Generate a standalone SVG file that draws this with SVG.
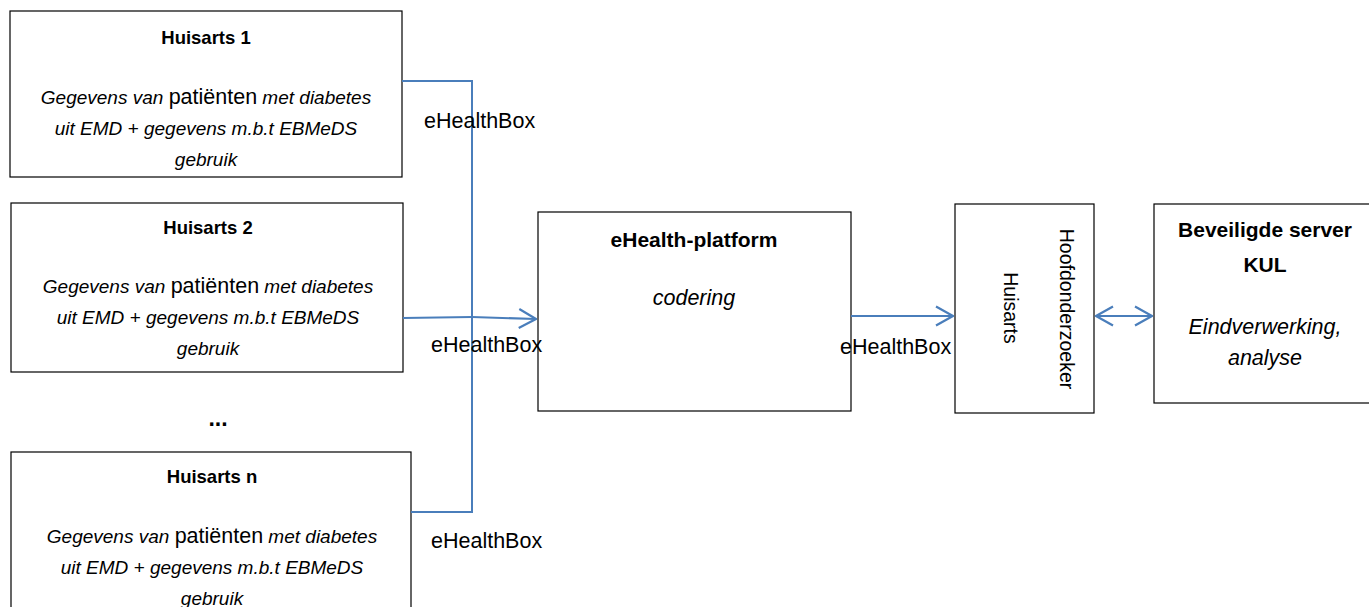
<svg xmlns="http://www.w3.org/2000/svg" width="1369" height="607" viewBox="0 0 1369 607">
<style>
text{font-family:"Liberation Sans","Noto Sans",sans-serif;fill:#000}
.box{fill:#fff;stroke:#000;stroke-width:1.2}
.t{font-weight:bold;font-size:18.5px;text-anchor:middle}
.tl{font-weight:bold;font-size:21px;text-anchor:middle}
.d{font-style:italic;font-size:19px;text-anchor:middle}
.dl{font-style:italic;font-size:21.5px;text-anchor:middle}
.pt{font-style:normal;font-size:21.5px}
.lbl{font-size:21.5px}
.v{font-size:19.5px;text-anchor:middle}
.c{fill:none;stroke:#4A7EBB;stroke-width:2}
</style>
<defs>
<marker id="ah" viewBox="0 0 19 22" refX="18" refY="11" markerWidth="19" markerHeight="22" markerUnits="userSpaceOnUse" orient="auto-start-reverse">
<path d="M1,1.5 L18,11 L1,20.5" fill="none" stroke="#4A7EBB" stroke-width="2.2"/>
</marker>
</defs>
<g id="huisarts1">
<rect class="box" x="10" y="11" width="392" height="166"/>
<text class="t" x="206" y="44">Huisarts 1</text>
<text class="d" x="206" y="104">Gegevens van <tspan class="pt">patiënten</tspan> met diabetes</text>
<text class="d" x="206" y="135">uit EMD + gegevens m.b.t EBMeDS</text>
<text class="d" x="206" y="166">gebruik</text>
</g>
<g id="huisarts2">
<rect class="box" x="11" y="203" width="392" height="169"/>
<text class="t" x="208" y="234">Huisarts 2</text>
<text class="d" x="208" y="293">Gegevens van <tspan class="pt">patiënten</tspan> met diabetes</text>
<text class="d" x="208" y="324">uit EMD + gegevens m.b.t EBMeDS</text>
<text class="d" x="208" y="355">gebruik</text>
</g>
<g id="dots">
<text class="t" x="218" y="426" style="font-size:23px">...</text>
</g>
<g id="huisartsn">
<rect class="box" x="11" y="452" width="400" height="160"/>
<text class="t" x="212" y="483">Huisarts n</text>
<text class="d" x="212" y="543">Gegevens van <tspan class="pt">patiënten</tspan> met diabetes</text>
<text class="d" x="212" y="574">uit EMD + gegevens m.b.t EBMeDS</text>
<text class="d" x="212" y="605">gebruik</text>
</g>
<g id="ehealth">
<rect class="box" x="538" y="212" width="313" height="199"/>
<text class="tl" x="694" y="247">eHealth-platform</text>
<text class="dl" x="694" y="305">codering</text>
</g>
<g id="hoofdonderzoeker">
<rect class="box" x="955" y="204" width="139" height="209"/>
<text class="v" transform="translate(1060,309) rotate(90)">Hoofdonderzoeker</text>
<text class="v" transform="translate(1004,308) rotate(90)">Huisarts</text>
</g>
<g id="server">
<rect class="box" x="1154" y="204" width="222" height="199"/>
<text class="tl" x="1265" y="237">Beveiligde server</text>
<text class="tl" x="1265" y="272">KUL</text>
<text class="dl" x="1265" y="334">Eindverwerking,</text>
<text class="dl" x="1265" y="365">analyse</text>
</g>
<g id="connectors">
<polyline class="c" points="402,81 472,81 472,512 411,512"/>
<line class="c" x1="403" y1="318" x2="472" y2="317"/>
<line class="c" x1="472" y1="317" x2="536" y2="319" marker-end="url(#ah)"/>
<line class="c" x1="851" y1="316" x2="953" y2="316" marker-end="url(#ah)"/>
<line class="c" x1="1096" y1="316" x2="1152" y2="316" marker-start="url(#ah)" marker-end="url(#ah)"/>
<text class="lbl" x="424" y="128">eHealthBox</text>
<text class="lbl" x="431" y="352">eHealthBox</text>
<text class="lbl" x="431" y="548">eHealthBox</text>
<text class="lbl" x="840" y="354">eHealthBox</text>
</g>
</svg>
